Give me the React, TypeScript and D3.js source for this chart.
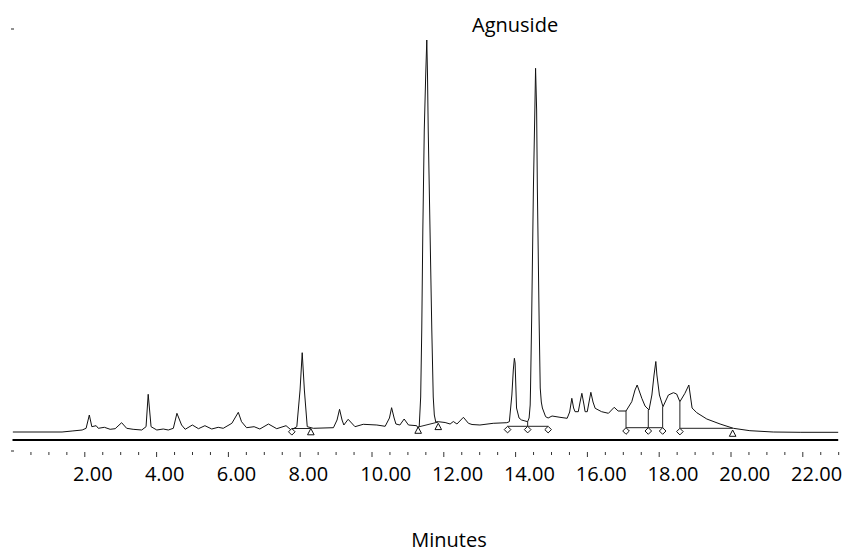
import React, { useEffect, useRef } from 'react';
import * as d3 from 'd3';

// chromatogram trace, [minutes, signal]
const trace: [number, number][] = [
  [0.01, 8], [1.38, 8], [1.66, 9], [1.94, 10], [2.05, 11.7], [2.14, 25], [2.21, 13.3],
  [2.33, 14.3], [2.39, 11.7], [2.56, 12.7], [2.72, 10.7], [2.86, 11.3], [3.04, 17.3],
  [3.18, 11.7], [3.36, 10.7], [3.6, 10], [3.72, 13.3], [3.78, 45.7], [3.86, 13.3],
  [4.02, 10], [4.2, 11], [4.34, 10], [4.48, 11.7], [4.58, 26.7], [4.71, 15], [4.81, 10.7],
  [5.01, 15], [5.18, 11.3], [5.36, 14.3], [5.55, 11], [5.73, 12.7], [5.87, 11.7],
  [6.11, 16.7], [6.29, 27.7], [6.38, 18.3], [6.52, 12.3], [6.73, 13.3], [6.89, 11],
  [7.13, 16], [7.36, 11.3], [7.62, 14.3], [7.76, 10], [7.92, 13.3], [8.01, 50],
  [8.07, 87.3], [8.13, 50], [8.21, 13.3], [8.38, 11.7], [8.94, 12.3], [9.04, 20],
  [9.11, 30.7], [9.18, 20], [9.23, 15], [9.35, 20.7], [9.54, 13.3], [9.77, 15.7],
  [10.15, 15], [10.38, 13.7], [10.5, 22], [10.56, 32.3], [10.63, 22], [10.68, 16],
  [10.79, 15], [10.91, 21], [11.03, 15], [11.26, 14.3], [11.3, 11.7], [11.33, 14],
  [11.37, 43], [11.4, 110], [11.43, 210], [11.47, 310], [11.51, 365], [11.54, 400],
  [11.56, 365], [11.58, 310], [11.63, 210], [11.68, 110], [11.72, 43], [11.75, 25],
  [11.79, 18], [11.86, 18.3], [12.05, 17.5], [12.19, 16], [12.28, 18.5], [12.38, 16],
  [12.56, 22.7], [12.7, 16.7], [12.8, 15.5], [13.02, 15], [13.39, 16.7], [13.77, 17.3],
  [13.84, 18.3], [13.91, 45], [13.95, 70], [13.98, 81.7], [14.0, 77], [14.04, 32],
  [14.11, 22], [14.18, 20], [14.25, 19.3], [14.35, 18.3], [14.39, 22], [14.42, 35],
  [14.43, 52], [14.46, 118], [14.51, 252], [14.55, 330], [14.57, 371.7], [14.6, 330],
  [14.62, 252], [14.67, 118], [14.7, 52], [14.73, 38], [14.76, 32], [14.85, 23.3],
  [14.92, 22], [15.03, 24], [15.25, 22.7], [15.45, 21.7], [15.52, 28], [15.58, 41.7],
  [15.63, 32], [15.67, 28.3], [15.76, 28.3], [15.81, 38], [15.86, 46.7], [15.92, 35],
  [15.95, 28.3], [16.01, 28.3], [16.07, 40], [16.11, 47.7], [16.17, 38], [16.23, 31.7],
  [16.41, 28.3], [16.6, 26.7], [16.76, 32.7], [16.87, 29], [17.09, 29], [17.25, 38.3],
  [17.34, 50], [17.4, 55], [17.53, 41.7], [17.62, 34], [17.73, 30], [17.81, 45],
  [17.87, 65], [17.92, 78.5], [17.95, 65], [18.02, 45], [18.12, 33.3], [18.27, 45],
  [18.41, 47.3], [18.5, 46], [18.59, 38.3], [18.73, 46.7], [18.84, 55], [18.93, 32],
  [19.06, 27.3], [19.34, 21], [19.71, 16], [20.08, 11.7], [20.54, 9.3], [21.19, 8],
  [21.94, 7.7], [23.0, 7.7],
];

// integration baselines [t1, v1, t2, v2]
const baselines: [number, number, number, number][] = [
  [7.78, 11.5, 8.31, 11.5],
  [11.3, 13, 11.86, 18],
  [13.79, 13.7, 14.92, 13.7],
  [17.09, 12.3, 18.11, 12.3],
  [18.59, 11.7, 20.06, 11.7],
];

// drop lines [t, top, bottom]
const dropLines: [number, number, number][] = [
  [14.35, 18.3, 13.7],
  [17.09, 29, 12.3],
  [17.71, 30, 12.3],
  [18.11, 33.3, 12.3],
  [18.59, 38.3, 11.7],
];

const diamonds: [number, number][] = [
  [7.78, 11.5], [13.79, 13.7], [14.35, 13.7], [14.92, 13.7],
  [17.09, 12.3], [17.71, 12.3], [18.11, 12.3], [18.59, 11.7],
];
const triangles: [number, number][] = [
  [8.31, 11.5], [11.3, 13], [11.86, 16.7], [20.06, 10],
];

const majorTicks = [2, 4, 6, 8, 10, 12, 14, 16, 18, 20, 22];
const timeDomain = [0, 23];
const signalDomain = [-11, 411];
const peakLabel = 'Agnuside';
const peakLabelTime = 14.0;
const xTitle = 'Minutes';

export default function App() {
  const ref = useRef<SVGSVGElement>(null);

  useEffect(() => {
    const svg = d3.select(ref.current);
    svg.selectAll('*').remove();
    const font = '"Open Sans", sans-serif';

    const x = d3.scaleLinear().domain(timeDomain).range([12.5, 838.2]);
    const y = d3.scaleLinear().domain(signalDomain).range([451, 29]);

    svg.append('rect').attr('width', 845).attr('height', 553).attr('fill', '#fff');

    // little end marks of the hidden signal axis
    svg.selectAll('.yend').data(signalDomain).join('line')
      .attr('class', 'yend')
      .attr('x1', x(0) - 1.5).attr('x2', x(0) + 1.5)
      .attr('y1', d => y(d)).attr('y2', d => y(d))
      .attr('stroke', '#555').attr('stroke-width', 1.3);

    // zero line
    svg.append('line')
      .attr('x1', x(timeDomain[0])).attr('x2', x(timeDomain[1]))
      .attr('y1', y(0)).attr('y2', y(0))
      .attr('stroke', '#000').attr('stroke-width', 2);

    // minor ticks
    const minor = d3.range(0.5, 23.01, 0.5).filter(t => !majorTicks.includes(t));
    const gMinor = svg.append('g').attr('transform', 'translate(0,452)')
      .call(d3.axisBottom(x).tickValues(minor).tickSize(3).tickFormat(() => ''));
    gMinor.select('.domain').remove();

    const gMajor = svg.append('g').attr('transform', 'translate(0,452)')
      .call(d3.axisBottom(x).tickValues(majorTicks).tickSize(5).tickFormat(d3.format('.2f')));
    gMajor.select('.domain').remove();
    gMajor.selectAll('.tick line').attr('stroke', '#333');
    gMinor.selectAll('.tick line').attr('stroke', '#333');
    gMajor.selectAll('.tick text')
      .attr('text-anchor', 'start')
      .attr('x', -11.7)
      .attr('y', 28.5)
      .attr('dy', 0)
      .attr('fill', '#000')
      .style('font-family', font)
      .style('font-size', '20px');

    // baselines
    svg.selectAll('.bl').data(baselines).join('line')
      .attr('class', 'bl')
      .attr('x1', d => x(d[0])).attr('y1', d => y(d[1]))
      .attr('x2', d => x(d[2])).attr('y2', d => y(d[3]))
      .attr('stroke', '#222').attr('stroke-width', 1);

    svg.selectAll('.drop').data(dropLines).join('line')
      .attr('class', 'drop')
      .attr('x1', d => x(d[0])).attr('x2', d => x(d[0]))
      .attr('y1', d => y(d[1])).attr('y2', d => y(d[2]))
      .attr('stroke', '#222').attr('stroke-width', 1);

    // trace
    const line = d3.line<[number, number]>()
      .x(d => x(d[0]))
      .y(d => y(d[1]));
    svg.append('path')
      .datum(trace)
      .attr('d', line)
      .attr('fill', 'none')
      .attr('stroke', '#111')
      .attr('stroke-width', 1)
      .attr('stroke-linejoin', 'round');

    // markers (top vertex sits on the baseline point)
    const s = 3.3;
    svg.selectAll('.dia').data(diamonds).join('path')
      .attr('class', 'dia')
      .attr('d', d => {
        const cx = x(d[0]), ty = y(d[1]);
        return `M${cx},${ty} L${cx + s},${ty + s} L${cx},${ty + 2 * s} L${cx - s},${ty + s} Z`;
      })
      .attr('fill', '#fff').attr('stroke', '#111').attr('stroke-width', 1);

    svg.selectAll('.tri').data(triangles).join('path')
      .attr('class', 'tri')
      .attr('d', d => {
        const cx = x(d[0]), ty = y(d[1]);
        return `M${cx},${ty} L${cx + s},${ty + 6.3} L${cx - s},${ty + 6.3} Z`;
      })
      .attr('fill', '#fff').attr('stroke', '#111').attr('stroke-width', 1);

    svg.append('text')
      .attr('x', x(peakLabelTime)).attr('y', 32)
      .attr('text-anchor', 'middle')
      .style('font-family', font).style('font-size', '20px')
      .text(peakLabel);

    svg.append('text')
      .attr('x', 449).attr('y', 547)
      .attr('text-anchor', 'middle')
      .style('font-family', font).style('font-size', '20px')
      .text(xTitle);
  }, []);

  return (
    <svg ref={ref} width={845} height={553}
      style={{ position: 'absolute', left: 0, top: 0, display: 'block' }} />
  );
}
